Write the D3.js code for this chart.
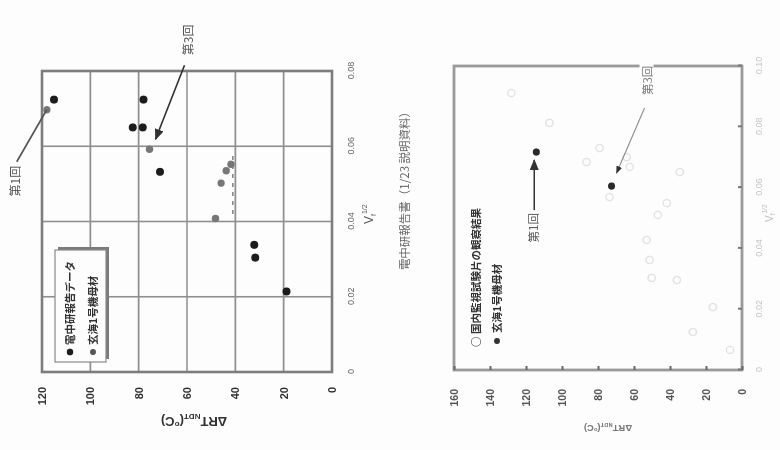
<!DOCTYPE html>
<html>
<head>
<meta charset="utf-8">
<script src="https://cdn.jsdelivr.net/npm/d3@7"></script>
<style>
  html, body { margin: 0; padding: 0; background: #fdfdfd; }
  svg { display: block; }
  text { font-family: "Liberation Sans", Arial, sans-serif; }
  .jp { font-family: "Noto Sans CJK JP", sans-serif; }
</style>
</head>
<body>
<svg id="page" width="780" height="450"></svg>
<script>
// ---- Upper figure: ΔRT_NDT vs Vf^1/2 ----
const fig1RefVf   = [0.0724, 0.0724, 0.0650, 0.0650, 0.0532, 0.0338, 0.0304, 0.0214];
const fig1RefDRT  = [115, 78, 82.5, 78.3, 71.2, 32.2, 31.8, 18.8];
const fig1GenVf   = [0.0697, 0.0592, 0.0552, 0.0535, 0.0502, 0.0408];
const fig1GenDRT  = [118, 75.5, 41.8, 43.8, 45.9, 48.2];
const fig1RangeDRT = 41;
const fig1RangeVf  = [0.042, 0.058];
const fig1VfTicks  = [0, 0.02, 0.04, 0.06, 0.08];
const fig1DRTTicks = [0, 20, 40, 60, 80, 100, 120];

// ---- Lower figure: surveillance results and Genkai-1 base metal ----
const fig2SurvVf  = [0.0911, 0.0813, 0.0684, 0.0730, 0.0700, 0.0668, 0.0569, 0.0549, 0.0651,
                     0.0510, 0.0428, 0.0362, 0.0303, 0.0296, 0.0207, 0.0125, 0.0066];
const fig2SurvDRT = [128.2, 107.0, 86.4, 79.2, 64.1, 62.4, 73.6, 41.8, 34.6,
                     46.8, 53.0, 51.3, 50.2, 36.2, 16.2, 27.3, 6.7];
const fig2GenVf   = [0.0717, 0.0605];
const fig2GenDRT  = [114.3, 72.5];
const fig2VfTicks  = [0, 0.02, 0.04, 0.06, 0.08, 0.10];
const fig2DRTTicks = [0, 20, 40, 60, 80, 100, 120, 140, 160];

const vfFmt = d => d === 0 ? "0" : d3.format(".2f")(d);

const svg = d3.select("#page");
const defs = svg.append("defs");
defs.append("filter").attr("id", "soft")
  .append("feGaussianBlur").attr("stdDeviation", 0.45);
defs.append("marker").attr("id", "head")
  .attr("viewBox", "0 0 10 10").attr("refX", 9).attr("refY", 5)
  .attr("markerWidth", 7).attr("markerHeight", 7).attr("orient", "auto")
  .append("path").attr("d", "M0,1L10,5L0,9z").attr("fill", "#333");

svg.append("rect").attr("width", 780).attr("height", 450).attr("fill", "#fdfdfd");

// The sheet is laid out portrait (450 wide, 780 tall) and turned a quarter turn.
const page = svg.append("g")
  .attr("transform", "translate(0,450) rotate(-90)")
  .attr("filter", "url(#soft)");

function yTitle(g, u, v, size, color) {
  const t = g.append("text")
    .attr("transform", `translate(${u},${v}) rotate(-90)`)
    .attr("text-anchor", "middle")
    .attr("font-size", size).attr("font-weight", "bold").attr("fill", color);
  t.append("tspan").text("ΔRT");
  t.append("tspan").attr("font-size", size * 0.62).attr("dy", size * 0.2).text("NDT");
  t.append("tspan").attr("dy", -size * 0.2).text("(");
  t.append("tspan").attr("font-size", size * 0.62).attr("dy", -size * 0.35).text("o");
  t.append("tspan").attr("dy", size * 0.35).text("C)");
}

// ================= Figure 1 =================
const x1 = d3.scaleLinear().domain([0, 0.08]).range([78, 379]);
const y1 = d3.scaleLinear().domain([0, 120]).range([332, 42]);
const f1 = page.append("g");

// grid
f1.append("g").selectAll("line").data(fig1VfTicks).join("line")
  .attr("x1", d => x1(d)).attr("x2", d => x1(d))
  .attr("y1", y1(120)).attr("y2", y1(0))
  .attr("stroke", "#8f8f8f").attr("stroke-width", 1.6);
f1.append("g").selectAll("line").data(fig1DRTTicks).join("line")
  .attr("x1", x1(0)).attr("x2", x1(0.08))
  .attr("y1", d => y1(d)).attr("y2", d => y1(d))
  .attr("stroke", "#8f8f8f").attr("stroke-width", 1.6);
f1.append("rect")
  .attr("x", x1(0)).attr("y", y1(120))
  .attr("width", x1(0.08) - x1(0)).attr("height", y1(0) - y1(120))
  .attr("fill", "none").attr("stroke", "#7d7d7d").attr("stroke-width", 2.6);

// axes (labels only)
const ax1y = f1.append("g").attr("transform", `translate(${x1(0)},0)`)
  .call(d3.axisLeft(y1).tickValues(fig1DRTTicks).tickSize(0).tickPadding(15));
ax1y.select(".domain").remove();
ax1y.selectAll("text").attr("font-size", 11).attr("font-weight", "bold")
  .attr("fill", "#333").attr("font-family", "Liberation Sans, Arial, sans-serif");
const ax1x = f1.append("g").attr("transform", `translate(0,${y1(0)})`)
  .call(d3.axisBottom(x1).tickValues(fig1VfTicks).tickFormat(vfFmt).tickSize(0).tickPadding(16));
ax1x.select(".domain").remove();
ax1x.selectAll("text").attr("font-size", 9).attr("fill", "#666")
  .attr("font-family", "Liberation Sans, Arial, sans-serif");

yTitle(f1, 33, 194, 13, "#333");
const xt1 = f1.append("text").attr("x", 226).attr("y", 373)
  .attr("font-size", 12).attr("fill", "#555");
xt1.append("tspan").text("V");
xt1.append("tspan").attr("font-size", 7).attr("dy", 3).text("f");
xt1.append("tspan").attr("font-size", 7).attr("dy", -9).text("1/2");

f1.append("text").attr("class", "jp").attr("x", 262).attr("y", 409)
  .attr("text-anchor", "middle").attr("font-size", 11.5).attr("fill", "#666")
  .text("電中研報告書（1/23 説明資料）");

// range bar
f1.append("line")
  .attr("x1", x1(fig1RangeVf[0])).attr("x2", x1(fig1RangeVf[1]))
  .attr("y1", y1(fig1RangeDRT)).attr("y2", y1(fig1RangeDRT))
  .attr("stroke", "#666").attr("stroke-width", 1.2).attr("stroke-dasharray", "4,5");

// points
f1.append("g").selectAll("circle").data(fig1RefVf.map((v, i) => [v, fig1RefDRT[i]])).join("circle")
  .attr("cx", d => x1(d[0])).attr("cy", d => y1(d[1])).attr("r", 4).attr("fill", "#1c1c1c");
f1.append("g").selectAll("circle").data(fig1GenVf.map((v, i) => [v, fig1GenDRT[i]])).join("circle")
  .attr("cx", d => x1(d[0])).attr("cy", d => y1(d[1])).attr("r", 3.7).attr("fill", "#777");

// annotations
const f1p1 = [x1(fig1GenVf[0]), y1(fig1GenDRT[0])];
f1.append("line").attr("x1", f1p1[0] - 52).attr("y1", f1p1[1] - 30)
  .attr("x2", f1p1[0]).attr("y2", f1p1[1]).attr("stroke", "#555").attr("stroke-width", 1.8);
f1.append("text").attr("class", "jp").attr("x", f1p1[0] - 56).attr("y", f1p1[1] - 27)
  .attr("text-anchor", "end").attr("font-size", 12).attr("fill", "#555").text("第1回");
const f1p3 = [x1(fig1GenVf[1]), y1(fig1GenDRT[1])];
f1.append("line").attr("x1", f1p3[0] + 84).attr("y1", f1p3[1] + 35)
  .attr("x2", f1p3[0] + 10).attr("y2", f1p3[1] + 6)
  .attr("stroke", "#333").attr("stroke-width", 1.6).attr("marker-end", "url(#head)");
f1.append("text").attr("class", "jp").attr("x", f1p3[0] + 94).attr("y", f1p3[1] + 43)
  .attr("font-size", 12).attr("fill", "#555").text("第3回");

// legend
const lg1 = f1.append("g");
lg1.append("rect").attr("x", 91).attr("y", 58).attr("width", 112).attr("height", 51).attr("fill", "#7a7a7a");
lg1.append("rect").attr("x", 88).attr("y", 55).attr("width", 112).attr("height", 51)
  .attr("fill", "#fdfdfd").attr("stroke", "#8a8a8a").attr("stroke-width", 1.2);
lg1.append("circle").attr("cx", 98).attr("cy", 70).attr("r", 3.3).attr("fill", "#1c1c1c");
lg1.append("text").attr("class", "jp").attr("x", 105).attr("y", 74)
  .attr("font-size", 10.5).attr("font-weight", "bold").attr("fill", "#333").text("電中研報告データ");
lg1.append("circle").attr("cx", 98).attr("cy", 93).attr("r", 3).attr("fill", "#555");
lg1.append("text").attr("class", "jp").attr("x", 105).attr("y", 97)
  .attr("font-size", 10.5).attr("font-weight", "bold").attr("fill", "#333").text("玄海1号機母材");

// ================= Figure 2 =================
const x2 = d3.scaleLinear().domain([0, 0.10]).range([80, 384]);
const y2 = d3.scaleLinear().domain([0, 160]).range([742, 454]);
const f2 = page.append("g");

f2.append("rect")
  .attr("x", x2(0)).attr("y", y2(160))
  .attr("width", x2(0.10) - x2(0)).attr("height", y2(0) - y2(160))
  .attr("fill", "none").attr("stroke", "#9a9a9a").attr("stroke-width", 2.8);

const ax2y = f2.append("g").attr("transform", `translate(${x2(0)},0)`)
  .call(d3.axisLeft(y2).tickValues(fig2DRTTicks).tickSizeInner(-4).tickSizeOuter(0).tickPadding(19));
ax2y.select(".domain").remove();
ax2y.selectAll("line").attr("stroke", "#666").attr("stroke-width", 2);
ax2y.selectAll("text").attr("font-size", 10.5).attr("font-weight", "bold")
  .attr("fill", "#555").attr("font-family", "Liberation Sans, Arial, sans-serif");
const ax2x = f2.append("g").attr("transform", `translate(0,${y2(0)})`)
  .call(d3.axisBottom(x2).tickValues(fig2VfTicks).tickFormat(vfFmt).tickSizeInner(-4).tickSizeOuter(0).tickPadding(14));
ax2x.select(".domain").remove();
ax2x.selectAll("line").attr("stroke", "#777").attr("stroke-width", 2);
ax2x.selectAll("text").attr("font-size", 9).attr("fill", "#c4c4c4")
  .attr("font-family", "Liberation Sans, Arial, sans-serif");

yTitle(f2, 25, 608, 9.5, "#777");
const xt2 = f2.append("text").attr("x", 228).attr("y", 773)
  .attr("font-size", 10).attr("fill", "#bbb");
xt2.append("tspan").text("V");
xt2.append("tspan").attr("font-size", 6.5).attr("dy", 2).text("f");
xt2.append("tspan").attr("font-size", 6.5).attr("dy", -8).text("1/2");

// surveillance specimens (faint open circles)
f2.append("g").selectAll("circle").data(fig2SurvVf.map((v, i) => [v, fig2SurvDRT[i]])).join("circle")
  .attr("cx", d => x2(d[0])).attr("cy", d => y2(d[1])).attr("r", 3.6)
  .attr("fill", "none").attr("stroke", "#e2e2e2").attr("stroke-width", 1.4);

// Genkai-1 base metal
f2.append("g").selectAll("circle").data(fig2GenVf.map((v, i) => [v, fig2GenDRT[i]])).join("circle")
  .attr("cx", d => x2(d[0])).attr("cy", d => y2(d[1])).attr("r", 3.6).attr("fill", "#2a2a2a");

const f2p1 = [x2(fig2GenVf[0]), y2(fig2GenDRT[0])];
f2.append("line").attr("x1", f2p1[0] - 58).attr("y1", f2p1[1] - 2)
  .attr("x2", f2p1[0] - 8).attr("y2", f2p1[1] - 2)
  .attr("stroke", "#333").attr("stroke-width", 1.6).attr("marker-end", "url(#head)");
f2.append("text").attr("class", "jp").attr("x", f2p1[0] - 61).attr("y", f2p1[1] + 2)
  .attr("text-anchor", "end").attr("font-size", 11.5).attr("fill", "#555").text("第1回");

const f2p3 = [x2(fig2GenVf[1]), y2(fig2GenDRT[1])];
f2.append("line").attr("x1", f2p3[0] + 78).attr("y1", f2p3[1] + 33)
  .attr("x2", f2p3[0] + 13).attr("y2", f2p3[1] + 5)
  .attr("stroke", "#888").attr("stroke-width", 1.1).attr("marker-end", "url(#head)");
f2.append("rect").attr("x", f2p3[0] + 88).attr("y", f2p3[1] + 28)
  .attr("width", 46).attr("height", 14).attr("fill", "#fdfdfd");
f2.append("text").attr("class", "jp").attr("x", f2p3[0] + 91).attr("y", f2p3[1] + 40)
  .attr("font-size", 11.5).attr("fill", "#777").text("第3回");

// legend (no frame)
f2.append("text").attr("class", "jp").attr("x", 103).attr("y", 480)
  .attr("font-size", 10.5).attr("font-weight", "bold").attr("fill", "#333").text("○ 国内監視試験片の観察結果");
f2.append("circle").attr("cx", 109).attr("cy", 497).attr("r", 3).attr("fill", "#333");
f2.append("text").attr("class", "jp").attr("x", 117).attr("y", 501)
  .attr("font-size", 10.5).attr("font-weight", "bold").attr("fill", "#333").text("玄海1号機母材");
</script>
</body>
</html>
